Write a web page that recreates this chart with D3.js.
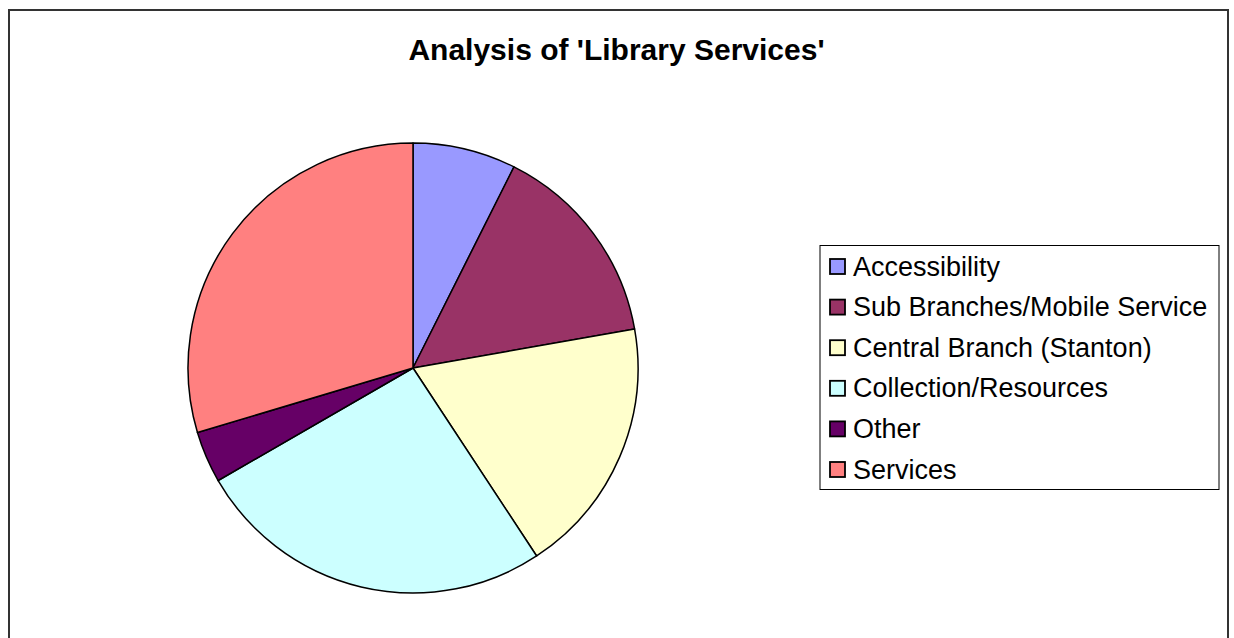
<!DOCTYPE html>
<html><head><meta charset="utf-8">
<script src="https://cdn.jsdelivr.net/npm/d3@7"></script>
<style>html,body{margin:0;padding:0;background:#fff;}</style>
</head><body>
<svg id="chart" width="1234" height="638"></svg>
<script>
const categories = ["Accessibility","Sub Branches/Mobile Service","Central Branch (Stanton)","Collection/Resources","Other","Services"];
const values = [2,4,5,7,1,8];
const colors = ["#9999FF","#993366","#FFFFCC","#CCFFFF","#660066","#FF8080"];
const title = "Analysis of 'Library Services'";

const svg = d3.select("#chart");
const font = "'Liberation Sans', Arial, sans-serif";

svg.append("rect").attr("x",9).attr("y",10).attr("width",1219).attr("height",640)
  .attr("fill","#fff").attr("stroke","#333").attr("stroke-width",2);

svg.append("text").attr("x",616.5).attr("y",60).attr("text-anchor","middle")
  .attr("font-family",font).attr("font-weight","bold").attr("font-size",30)
  .text(title);

const data = categories.map((c,i)=>({name:c,value:values[i],color:colors[i]}));
const pie = d3.pie().value(d=>d.value).sort(null);
const arc = d3.arc().innerRadius(0).outerRadius(225);
const g = svg.append("g").attr("transform","translate(413,368)");
g.selectAll("path").data(pie(data)).join("path")
  .attr("d",arc).attr("fill",d=>d.data.color)
  .attr("stroke","#000").attr("stroke-width",1.5).attr("stroke-linejoin","round");

const lg = svg.append("g");
lg.append("rect").attr("x",820).attr("y",245.5).attr("width",399).attr("height",244)
  .attr("fill","#fff").attr("stroke","#000").attr("stroke-width",1);
const y = d3.scalePoint().domain(categories).range([266.5,469.5]);
const rows = lg.selectAll("g.row").data(data).join("g").attr("class","row")
  .attr("transform",d=>`translate(0,${y(d.name)})`);
rows.append("rect").attr("x",830).attr("y",-7.5).attr("width",15).attr("height",15)
  .attr("fill",d=>d.color).attr("stroke","#000").attr("stroke-width",1.8);
rows.append("text").attr("x",853).attr("y",9).attr("font-family",font).attr("font-size",27)
  .text(d=>d.name);
</script>
</body></html>
